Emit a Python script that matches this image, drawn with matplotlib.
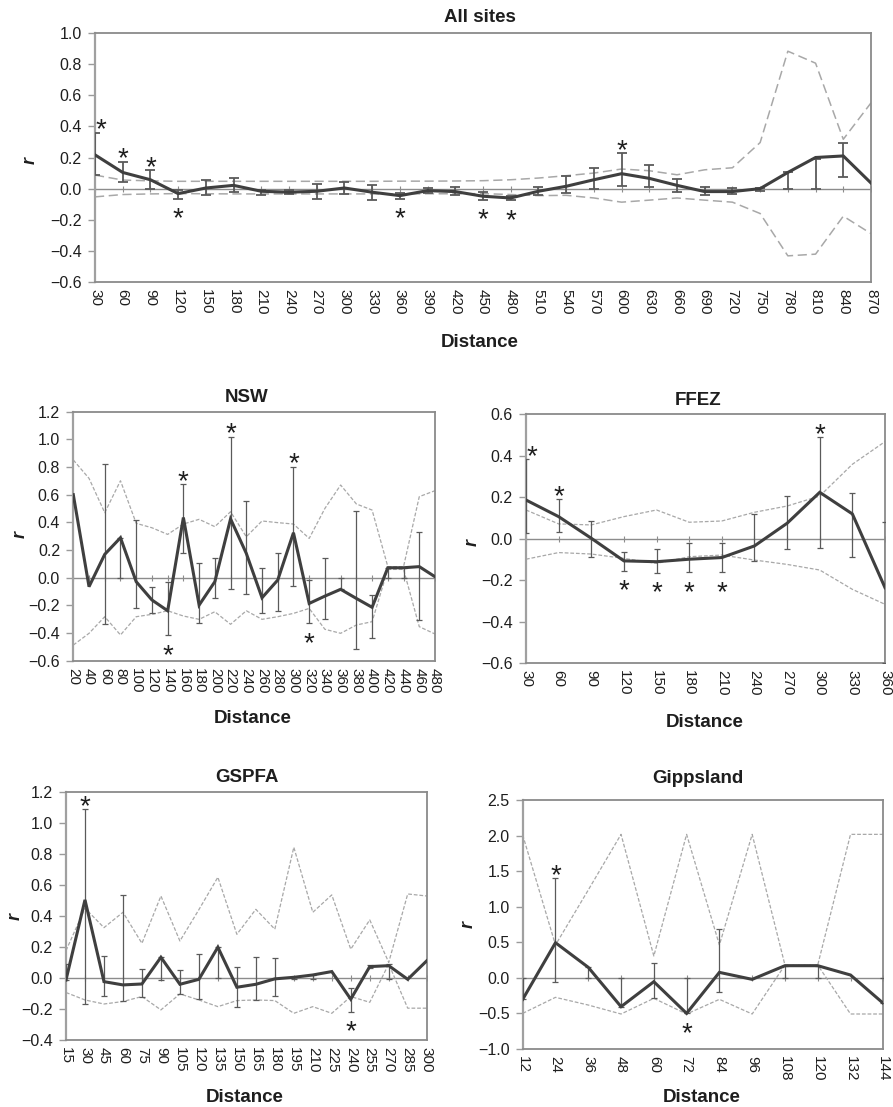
import matplotlib
matplotlib.use("Agg")
import matplotlib.pyplot as plt
import numpy as np

plt.rcParams['font.family'] = ['Liberation Sans', 'DejaVu Sans']

nan = np.nan

# ---------------- All sites ----------------
all_dist = [30, 60, 90, 120, 150, 180, 210, 240, 270, 300, 330, 360, 390, 420, 450,
            480, 510, 540, 570, 600, 630, 660, 690, 720, 750, 780, 810, 840, 870]
all_r = [0.217, 0.104, 0.057, -0.032, 0.004, 0.021, -0.017, -0.023, -0.017, 0.004,
         -0.023, -0.045, -0.013, -0.019, -0.049, -0.060, -0.017, 0.015, 0.057, 0.096,
         0.066, 0.021, -0.019, -0.019, 0.000, 0.104, 0.200, 0.210, 0.036]
all_hi = [0.360, 0.174, 0.117, -0.011, 0.053, 0.066, -0.006, -0.011, 0.032, 0.045,
          0.023, -0.028, 0.004, 0.011, -0.023, -0.045, 0.009, 0.083, 0.130, 0.228,
          0.153, 0.062, 0.009, 0.004, 0.004, 0.104, 0.190, 0.296, nan]
all_lo = [0.087, 0.040, 0.000, -0.066, -0.043, -0.023, -0.038, -0.032, -0.064, -0.034,
          -0.072, -0.066, -0.028, -0.043, -0.070, -0.074, -0.038, -0.030, 0.000, 0.015,
          0.009, -0.021, -0.043, -0.034, -0.013, 0.000, 0.000, 0.072, nan]
all_up = [0.087, 0.055, 0.050, 0.047, 0.047, 0.047, 0.047, 0.047, 0.047, 0.047,
          0.047, 0.048, 0.048, 0.049, 0.051, 0.057, 0.068, 0.083, 0.100, 0.126,
          0.115, 0.089, 0.121, 0.134, 0.296, 0.883, 0.806, 0.317, 0.551]
all_dn = [-0.053, -0.038, -0.034, -0.032, -0.033, -0.034, -0.034, -0.034, -0.034, -0.034,
          -0.034, -0.034, -0.033, -0.033, -0.032, -0.038, -0.045, -0.043, -0.060, -0.087,
          -0.074, -0.060, -0.074, -0.087, -0.160, -0.432, -0.421, -0.177, -0.289]
all_sig = [1, 1, 1, -1, 0, 0, 0, 0, 0, 0, 0, -1, 0, 0, -1, -1, 0, 0, 0, 1,
           0, 0, 0, 0, 0, 0, 0, 0, 0]

# ---------------- NSW ----------------
nsw_dist = [20, 40, 60, 80, 100, 120, 140, 160, 180, 200, 220, 240, 260, 280, 300,
            320, 340, 360, 380, 400, 420, 440, 460, 480]
nsw_r = [0.600, -0.065, 0.169, 0.289, -0.029, -0.161, -0.239, 0.435, -0.198, -0.029,
         0.425, 0.176, -0.145, -0.017, 0.325, -0.186, -0.133, -0.084, -0.150, -0.214,
         0.072, 0.072, 0.080, 0.007]
nsw_hi = [nan, nan, 0.819, 0.289, 0.417, -0.070, -0.034, 0.675, 0.108, 0.145,
          1.019, 0.554, 0.072, 0.181, 0.802, -0.017, 0.145, 0.000, 0.484, -0.125,
          0.072, 0.072, 0.333, nan]
nsw_lo = [nan, nan, -0.337, 0.000, -0.222, -0.258, -0.417, 0.181, -0.325, -0.149,
          -0.084, -0.120, -0.253, -0.241, -0.060, -0.330, -0.301, -0.084, -0.518, -0.434,
          0.000, 0.000, -0.306, nan]
nsw_up = [0.851, 0.718, 0.470, 0.701, 0.393, 0.361, 0.313, 0.388, 0.422, 0.369,
          0.477, 0.296, 0.410, 0.398, 0.388, 0.284, 0.501, 0.670, 0.533, 0.489,
          0.080, 0.080, 0.586, 0.629]
nsw_dn = [-0.487, -0.402, -0.282, -0.414, -0.282, -0.265, -0.239, -0.277, -0.301, -0.246,
          -0.337, -0.239, -0.301, -0.282, -0.258, -0.222, -0.373, -0.402, -0.342, -0.318,
          0.060, 0.060, -0.354, -0.407]
nsw_sig = [0, 0, 0, 0, 0, 0, -1, 1, 0, 0, 1, 0, 0, 0, 1, -1, 0, 0, 0, 0, 0, 0, 0, 0]

# ---------------- FFEZ ----------------
ffez_dist = [30, 60, 90, 120, 150, 180, 210, 240, 270, 300, 330, 360]
ffez_r = [0.186, 0.106, 0.002, -0.107, -0.111, -0.099, -0.091, -0.035, 0.074, 0.223,
          0.119, -0.236]
ffez_hi = [0.383, 0.191, 0.085, -0.063, -0.048, -0.022, -0.022, 0.119, 0.205, 0.488,
           0.221, 0.082]
ffez_lo = [0.026, 0.034, -0.090, -0.154, -0.164, -0.162, -0.162, -0.107, -0.051, -0.047,
           -0.090, -0.600]
ffez_up = [0.138, 0.071, 0.066, 0.106, 0.138, 0.079, 0.085, 0.127, 0.157, 0.205,
           0.358, 0.467]
ffez_dn = [-0.099, -0.067, -0.074, -0.095, -0.119, -0.087, -0.079, -0.103, -0.124, -0.151,
           -0.244, -0.316]
ffez_sig = [1, 1, 0, -1, -1, -1, -1, 0, 0, 1, 0, 0]

# ---------------- GSPFA ----------------
gs_dist = [15, 30, 45, 60, 75, 90, 105, 120, 135, 150, 165, 180, 195, 210, 225,
           240, 255, 270, 285, 300]
gs_r = [-0.013, 0.503, -0.024, -0.045, -0.039, 0.133, -0.041, -0.009, 0.198, -0.060,
        -0.041, -0.006, 0.004, 0.019, 0.041, -0.137, 0.073, 0.079, -0.009, 0.110]
gs_hi = [0.090, 1.087, 0.144, 0.535, 0.056, 0.133, 0.052, 0.152, 0.198, 0.069,
         0.133, 0.127, 0.004, 0.019, nan, -0.067, 0.084, 0.090, nan, nan]
gs_lo = [-0.013, -0.170, -0.116, -0.148, -0.120, -0.013, -0.105, -0.137, 0.000, -0.185,
         -0.142, -0.116, -0.010, -0.010, nan, -0.217, 0.067, -0.010, nan, nan]
gs_up = [0.176, 0.449, 0.324, 0.423, 0.223, 0.528, 0.238, 0.440, 0.649, 0.281,
         0.442, 0.314, 0.842, 0.423, 0.535, 0.185, 0.374, 0.100, 0.541, 0.528]
gs_dn = [-0.094, -0.142, -0.168, -0.152, -0.120, -0.206, -0.103, -0.142, -0.185, -0.146,
         -0.142, -0.146, -0.228, -0.185, -0.228, -0.120, -0.157, 0.090, -0.195, -0.195]
gs_sig = [0, 1, 0, 0, 0, 0, 0, 0, 0, 0, 0, 0, 0, 0, 0, -1, 0, 0, 0, 0]

# ---------------- Gippsland ----------------
gp_dist = [12, 24, 36, 48, 60, 72, 84, 96, 108, 120, 132, 144]
gp_r = [-0.302, 0.494, 0.148, -0.405, -0.054, -0.499, 0.077, -0.021, 0.171, 0.171,
        0.040, -0.358]
gp_hi = [0.000, 1.398, 0.148, 0.000, 0.204, 0.000, 0.682, nan, 0.171, 0.171, nan, 0.000]
gp_lo = [-0.302, -0.054, 0.000, -0.405, -0.288, -0.499, -0.195, nan, 0.000, 0.000, nan,
         -0.358]
gp_up = [2.008, 0.462, 1.235, 2.017, 0.307, 2.017, 0.462, 2.017, 0.180, 0.180, 2.017, 2.017]
gp_dn = [-0.499, -0.274, -0.382, -0.508, -0.288, -0.508, -0.302, -0.508, 0.180, 0.180,
         -0.508, -0.508]
gp_sig = [0, 1, 0, 0, 0, -1, 0, 0, 0, 0, 0, 0]

W, H = 893, 1107
fig = plt.figure(figsize=(W / 100, H / 100), dpi=100)

FRAME = '#8a8a8a'
MEAN_C = '#3f3f3f'
ERR_C = '#5a5a5a'
ENV_C = '#a8a8a8'
TXT = '#1e1e1e'


def fig_text(x, y, s, va='baseline', **kw):
    fig.text(x / W, 1 - y / H, s, ha='center', va=va, **kw)


def panel(rect_px, dist, r, hi, lo, up, dn, sig, ylim, ystep, title, title_xy,
          dist_xy, r_xy, big=False):
    x0, y0, x1, y1 = rect_px
    ax = fig.add_axes([x0 / W, 1 - y1 / H, (x1 - x0) / W, (y1 - y0) / H])
    n = len(dist)
    xi = np.arange(n)
    ax.set_xlim(0, n - 1)
    ax.set_ylim(*ylim)
    # zero line with category ticks
    ax.axhline(0, color='#8c8c8c', lw=1.0, zorder=1)
    ax.plot(xi, np.zeros(n), ls='none', marker='|', ms=4, mew=0.8,
            color='#8c8c8c', zorder=1)
    # envelopes
    dash = (6, 3) if big else (3, 1.5)
    ax.plot(xi, up, color=ENV_C, lw=1.1 if big else 0.9, dashes=dash, zorder=2)
    ax.plot(xi, dn, color=ENV_C, lw=1.1 if big else 0.9, dashes=dash, zorder=2)
    # error bars
    hi_a = np.array(hi, dtype=float)
    lo_a = np.array(lo, dtype=float)
    ok = ~np.isnan(hi_a)
    elw = 1.3 if big else 0.9
    ax.vlines(xi[ok], lo_a[ok], hi_a[ok], color=ERR_C, lw=elw, zorder=3)
    ax.plot(xi[ok], hi_a[ok], ls='none', marker='_', ms=7 if big else 5,
            mew=elw, color=ERR_C, zorder=3)
    ax.plot(xi[ok], lo_a[ok], ls='none', marker='_', ms=7 if big else 5,
            mew=elw, color=ERR_C, zorder=3)
    # mean line
    ax.plot(xi, r, color=MEAN_C, lw=2.2, zorder=4, solid_joinstyle='miter')
    # significance stars
    for i, s in enumerate(sig):
        if s == 0:
            continue
        dx = 4 if i == 0 else 0
        if s > 0:
            base = np.nanmax([r[i], hi[i]])
            dy = -3.5
        else:
            base = np.nanmin([r[i], lo[i]])
            dy = -20
        ax.annotate('*', (i, base), xytext=(dx, dy), textcoords='offset points',
                    ha='center', va='baseline', fontsize=20, color=TXT,
                    annotation_clip=False, zorder=5)
    # axes styling
    yt = np.arange(ylim[0], ylim[1] + ystep / 2, ystep)
    ax.set_yticks(yt)
    ax.set_yticklabels([f'{v:.1f}'.replace('-', '\u2212') if abs(v) > 1e-9 else '0.0'
                        for v in yt])
    ax.set_xticks(xi)
    ax.set_xticklabels([str(d) for d in dist], rotation=270)
    ax.tick_params(axis='x', length=0, pad=5, labelsize=11, colors=TXT)
    ax.tick_params(axis='y', length=5, width=1, color='#9a9a9a', pad=4.5,
                   labelsize=11.5, labelcolor=TXT)
    for sp in ax.spines.values():
        sp.set_color(FRAME)
        sp.set_linewidth(1.3)
    ax.spines['left'].set_color('#a0a0a0')
    ax.spines['left'].set_linewidth(1.6)
    fig_text(*title_xy, title, fontsize=13.5, fontweight='bold', color=TXT)
    fig_text(*dist_xy, 'Distance', fontsize=13.5, fontweight='bold', color=TXT)
    fig_text(*r_xy, 'r', va='center', fontsize=13, fontweight='bold',
             fontstyle='italic', rotation=90, color=TXT)
    return ax


panel((95, 33, 871, 282), all_dist, all_r, all_hi, all_lo, all_up, all_dn, all_sig,
      (-0.6, 1.0), 0.2, 'All sites', (480, 22), (480, 347), (30, 160), big=True)
panel((73.3, 411.7, 435, 660.7), nsw_dist, nsw_r, nsw_hi, nsw_lo, nsw_up, nsw_dn, nsw_sig,
      (-0.6, 1.2), 0.2, 'NSW', (247, 402), (253, 723), (20, 535))
panel((526, 414, 885, 663.3), ffez_dist, ffez_r, ffez_hi, ffez_lo, ffez_up, ffez_dn,
      ffez_sig, (-0.6, 0.6), 0.2, 'FFEZ', (698, 405), (705, 727), (472, 543))
panel((66, 791.7, 426.7, 1040), gs_dist, gs_r, gs_hi, gs_lo, gs_up, gs_dn, gs_sig,
      (-0.4, 1.2), 0.2, 'GSPFA', (247, 782), (245, 1102), (15, 917))
panel((522.7, 800, 883.3, 1049), gp_dist, gp_r, gp_hi, gp_lo, gp_up, gp_dn, gp_sig,
      (-1.0, 2.5), 0.5, 'Gippsland', (698, 783), (702, 1102), (468, 925))

fig.savefig('out.png', dpi=100)
